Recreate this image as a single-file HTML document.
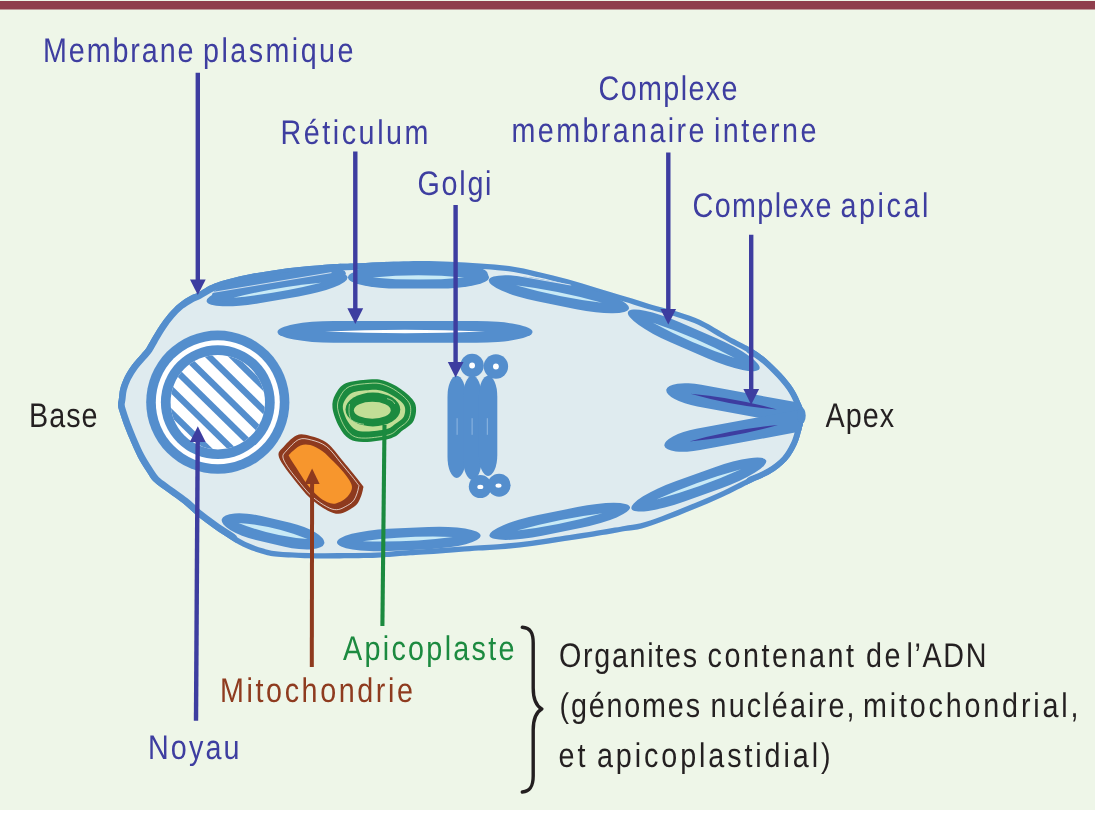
<!DOCTYPE html>
<html><head><meta charset="utf-8"><title>Figure</title>
<style>html,body{margin:0;padding:0;background:#fff;}body{width:1095px;height:819px;overflow:hidden;font-family:"Liberation Sans",sans-serif;}svg{display:block;}</style>
</head><body>
<svg width="1095" height="819" viewBox="0 0 1095 819">
<rect x="0" y="0" width="1095" height="819" fill="#ffffff"/>
<rect x="0" y="0" width="1095" height="810" fill="#eef6e8"/>
<rect x="0" y="1" width="1095" height="8.5" fill="#8f3e4c"/>
<defs><clipPath id="cellclip"><path d="M118.0,405.0C117.9,403.0 118.4,401.8 118.8,399.0C119.2,396.2 119.3,392.1 120.3,388.4C121.3,384.7 122.8,380.6 124.7,376.7C126.7,372.8 129.3,368.7 132.0,365.0C134.7,361.3 138.4,357.5 140.8,354.7C143.2,351.9 144.6,350.7 146.4,348.0C148.2,345.3 149.6,342.4 151.8,338.6C154.0,334.8 157.0,329.5 159.8,325.4C162.6,321.2 165.4,317.4 168.6,313.7C171.8,310.0 175.2,306.4 178.9,303.4C182.6,300.4 187.4,297.6 190.6,295.8C193.8,294.0 194.0,294.7 198.0,292.6C202.0,290.6 207.0,286.4 214.6,283.5C222.2,280.6 234.1,277.7 243.8,275.5C253.5,273.3 263.2,271.8 273.0,270.4C282.8,268.9 292.6,267.8 302.3,266.8C312.1,265.8 323.0,264.8 331.5,264.2C340.0,263.6 345.3,263.7 353.4,263.4C361.5,263.1 369.2,262.6 380.0,262.2C390.8,261.8 406.3,261.2 418.0,261.1C429.7,261.0 439.7,261.4 450.0,261.8C460.3,262.2 470.1,262.7 480.0,263.4C489.9,264.1 499.5,264.7 509.2,266.1C518.9,267.5 528.6,269.7 538.4,271.9C548.1,274.1 558.0,276.5 567.7,279.2C577.5,281.9 587.2,285.1 596.9,288.0C606.6,290.9 617.4,294.2 626.1,296.8C634.8,299.4 640.5,301.4 649.2,303.9C657.9,306.4 669.9,309.2 678.4,311.9C686.9,314.6 693.1,316.6 700.4,320.0C707.7,323.4 716.7,329.2 722.3,332.4C727.9,335.6 729.1,336.3 734.0,339.0C738.9,341.7 746.1,345.1 751.5,348.4C756.9,351.7 761.1,354.5 766.1,358.7C771.1,362.9 776.7,368.6 781.3,373.6C785.9,378.7 790.3,383.9 793.6,389.0C796.9,394.1 799.4,400.1 801.2,404.4C803.0,408.7 804.3,410.9 804.4,415.0C804.5,419.1 802.9,424.0 801.6,429.0C800.3,434.0 799.1,439.5 796.6,444.8C794.1,450.1 791.1,455.8 786.8,460.6C782.4,465.4 776.4,470.0 770.5,473.6C764.6,477.2 759.5,478.5 751.5,482.4C743.5,486.3 732.0,492.5 722.3,497.0C712.6,501.5 702.9,505.4 693.1,509.4C683.4,513.4 672.3,517.9 663.8,521.1C655.3,524.3 648.3,526.7 641.9,528.4C635.5,530.1 633.2,529.7 625.3,531.1C617.3,532.5 604.6,534.9 594.2,536.6C583.9,538.3 573.6,539.7 563.2,541.2C552.9,542.8 542.5,544.5 532.1,545.9C521.7,547.2 511.4,548.4 501.0,549.3C490.6,550.2 482.7,550.3 469.7,551.2C456.7,552.1 434.8,553.8 423.2,554.6C411.6,555.4 407.8,555.6 400.0,556.1C392.2,556.6 386.7,557.4 376.6,557.8C366.6,558.2 351.0,558.3 339.7,558.4C328.4,558.5 319.0,558.6 308.7,558.3C298.4,558.0 285.4,557.6 277.6,556.8C269.8,556.0 267.3,555.1 262.1,553.7C256.9,552.3 251.8,550.5 246.6,548.2C241.4,545.9 236.4,543.0 231.0,539.7C225.6,536.4 219.5,532.4 214.0,528.5C208.5,524.6 203.0,520.7 197.9,516.5C192.8,512.3 188.2,507.4 183.3,503.5C178.4,499.6 173.5,496.4 168.6,492.8C163.7,489.2 157.7,485.4 154.0,481.8C150.3,478.2 149.3,475.6 146.6,471.5C143.9,467.4 140.6,462.3 137.8,456.9C135.0,451.5 132.1,444.7 129.8,439.3C127.5,433.9 125.7,429.4 123.9,424.7C122.2,420.0 120.3,414.3 119.3,411.0C118.3,407.7 118.1,407.0 118.0,405.0Z"/></clipPath></defs>
<path d="M118.0,405.0C117.9,403.0 118.4,401.8 118.8,399.0C119.2,396.2 119.3,392.1 120.3,388.4C121.3,384.7 122.8,380.6 124.7,376.7C126.7,372.8 129.3,368.7 132.0,365.0C134.7,361.3 138.4,357.5 140.8,354.7C143.2,351.9 144.6,350.7 146.4,348.0C148.2,345.3 149.6,342.4 151.8,338.6C154.0,334.8 157.0,329.5 159.8,325.4C162.6,321.2 165.4,317.4 168.6,313.7C171.8,310.0 175.2,306.4 178.9,303.4C182.6,300.4 187.4,297.6 190.6,295.8C193.8,294.0 194.0,294.7 198.0,292.6C202.0,290.6 207.0,286.4 214.6,283.5C222.2,280.6 234.1,277.7 243.8,275.5C253.5,273.3 263.2,271.8 273.0,270.4C282.8,268.9 292.6,267.8 302.3,266.8C312.1,265.8 323.0,264.8 331.5,264.2C340.0,263.6 345.3,263.7 353.4,263.4C361.5,263.1 369.2,262.6 380.0,262.2C390.8,261.8 406.3,261.2 418.0,261.1C429.7,261.0 439.7,261.4 450.0,261.8C460.3,262.2 470.1,262.7 480.0,263.4C489.9,264.1 499.5,264.7 509.2,266.1C518.9,267.5 528.6,269.7 538.4,271.9C548.1,274.1 558.0,276.5 567.7,279.2C577.5,281.9 587.2,285.1 596.9,288.0C606.6,290.9 617.4,294.2 626.1,296.8C634.8,299.4 640.5,301.4 649.2,303.9C657.9,306.4 669.9,309.2 678.4,311.9C686.9,314.6 693.1,316.6 700.4,320.0C707.7,323.4 716.7,329.2 722.3,332.4C727.9,335.6 729.1,336.3 734.0,339.0C738.9,341.7 746.1,345.1 751.5,348.4C756.9,351.7 761.1,354.5 766.1,358.7C771.1,362.9 776.7,368.6 781.3,373.6C785.9,378.7 790.3,383.9 793.6,389.0C796.9,394.1 799.4,400.1 801.2,404.4C803.0,408.7 804.3,410.9 804.4,415.0C804.5,419.1 802.9,424.0 801.6,429.0C800.3,434.0 799.1,439.5 796.6,444.8C794.1,450.1 791.1,455.8 786.8,460.6C782.4,465.4 776.4,470.0 770.5,473.6C764.6,477.2 759.5,478.5 751.5,482.4C743.5,486.3 732.0,492.5 722.3,497.0C712.6,501.5 702.9,505.4 693.1,509.4C683.4,513.4 672.3,517.9 663.8,521.1C655.3,524.3 648.3,526.7 641.9,528.4C635.5,530.1 633.2,529.7 625.3,531.1C617.3,532.5 604.6,534.9 594.2,536.6C583.9,538.3 573.6,539.7 563.2,541.2C552.9,542.8 542.5,544.5 532.1,545.9C521.7,547.2 511.4,548.4 501.0,549.3C490.6,550.2 482.7,550.3 469.7,551.2C456.7,552.1 434.8,553.8 423.2,554.6C411.6,555.4 407.8,555.6 400.0,556.1C392.2,556.6 386.7,557.4 376.6,557.8C366.6,558.2 351.0,558.3 339.7,558.4C328.4,558.5 319.0,558.6 308.7,558.3C298.4,558.0 285.4,557.6 277.6,556.8C269.8,556.0 267.3,555.1 262.1,553.7C256.9,552.3 251.8,550.5 246.6,548.2C241.4,545.9 236.4,543.0 231.0,539.7C225.6,536.4 219.5,532.4 214.0,528.5C208.5,524.6 203.0,520.7 197.9,516.5C192.8,512.3 188.2,507.4 183.3,503.5C178.4,499.6 173.5,496.4 168.6,492.8C163.7,489.2 157.7,485.4 154.0,481.8C150.3,478.2 149.3,475.6 146.6,471.5C143.9,467.4 140.6,462.3 137.8,456.9C135.0,451.5 132.1,444.7 129.8,439.3C127.5,433.9 125.7,429.4 123.9,424.7C122.2,420.0 120.3,414.3 119.3,411.0C118.3,407.7 118.1,407.0 118.0,405.0Z" fill="#dfebef"/>
<path d="M118.0,405.0C117.9,403.0 118.4,401.8 118.8,399.0C119.2,396.2 119.3,392.1 120.3,388.4C121.3,384.7 122.8,380.6 124.7,376.7C126.7,372.8 129.3,368.7 132.0,365.0C134.7,361.3 138.4,357.5 140.8,354.7C143.2,351.9 144.6,350.7 146.4,348.0C148.2,345.3 149.6,342.4 151.8,338.6C154.0,334.8 157.0,329.5 159.8,325.4C162.6,321.2 165.4,317.4 168.6,313.7C171.8,310.0 175.2,306.4 178.9,303.4C182.6,300.4 187.4,297.6 190.6,295.8C193.8,294.0 194.0,294.7 198.0,292.6C202.0,290.6 207.0,286.4 214.6,283.5C222.2,280.6 234.1,277.7 243.8,275.5C253.5,273.3 263.2,271.8 273.0,270.4C282.8,268.9 292.6,267.8 302.3,266.8C312.1,265.8 323.0,264.8 331.5,264.2C340.0,263.6 345.3,263.7 353.4,263.4C361.5,263.1 369.2,262.6 380.0,262.2C390.8,261.8 406.3,261.2 418.0,261.1C429.7,261.0 439.7,261.4 450.0,261.8C460.3,262.2 470.1,262.7 480.0,263.4C489.9,264.1 499.5,264.7 509.2,266.1C518.9,267.5 528.6,269.7 538.4,271.9C548.1,274.1 558.0,276.5 567.7,279.2C577.5,281.9 587.2,285.1 596.9,288.0C606.6,290.9 617.4,294.2 626.1,296.8C634.8,299.4 640.5,301.4 649.2,303.9C657.9,306.4 669.9,309.2 678.4,311.9C686.9,314.6 693.1,316.6 700.4,320.0C707.7,323.4 716.7,329.2 722.3,332.4C727.9,335.6 729.1,336.3 734.0,339.0C738.9,341.7 746.1,345.1 751.5,348.4C756.9,351.7 761.1,354.5 766.1,358.7C771.1,362.9 776.7,368.6 781.3,373.6C785.9,378.7 790.3,383.9 793.6,389.0C796.9,394.1 799.4,400.1 801.2,404.4C803.0,408.7 804.3,410.9 804.4,415.0C804.5,419.1 802.9,424.0 801.6,429.0C800.3,434.0 799.1,439.5 796.6,444.8C794.1,450.1 791.1,455.8 786.8,460.6C782.4,465.4 776.4,470.0 770.5,473.6C764.6,477.2 759.5,478.5 751.5,482.4C743.5,486.3 732.0,492.5 722.3,497.0C712.6,501.5 702.9,505.4 693.1,509.4C683.4,513.4 672.3,517.9 663.8,521.1C655.3,524.3 648.3,526.7 641.9,528.4C635.5,530.1 633.2,529.7 625.3,531.1C617.3,532.5 604.6,534.9 594.2,536.6C583.9,538.3 573.6,539.7 563.2,541.2C552.9,542.8 542.5,544.5 532.1,545.9C521.7,547.2 511.4,548.4 501.0,549.3C490.6,550.2 482.7,550.3 469.7,551.2C456.7,552.1 434.8,553.8 423.2,554.6C411.6,555.4 407.8,555.6 400.0,556.1C392.2,556.6 386.7,557.4 376.6,557.8C366.6,558.2 351.0,558.3 339.7,558.4C328.4,558.5 319.0,558.6 308.7,558.3C298.4,558.0 285.4,557.6 277.6,556.8C269.8,556.0 267.3,555.1 262.1,553.7C256.9,552.3 251.8,550.5 246.6,548.2C241.4,545.9 236.4,543.0 231.0,539.7C225.6,536.4 219.5,532.4 214.0,528.5C208.5,524.6 203.0,520.7 197.9,516.5C192.8,512.3 188.2,507.4 183.3,503.5C178.4,499.6 173.5,496.4 168.6,492.8C163.7,489.2 157.7,485.4 154.0,481.8C150.3,478.2 149.3,475.6 146.6,471.5C143.9,467.4 140.6,462.3 137.8,456.9C135.0,451.5 132.1,444.7 129.8,439.3C127.5,433.9 125.7,429.4 123.9,424.7C122.2,420.0 120.3,414.3 119.3,411.0C118.3,407.7 118.1,407.0 118.0,405.0Z" fill="none" stroke="#548ecd" stroke-width="10.6" stroke-linejoin="round" clip-path="url(#cellclip)"/>
<path d="M751.5,348.4C753.9,350.1 761.1,354.5 766.1,358.7C771.1,362.9 776.7,368.6 781.3,373.6C785.9,378.7 790.3,383.9 793.6,389.0C796.9,394.1 799.4,400.1 801.2,404.4C803.0,408.7 804.3,410.9 804.4,415.0C804.5,419.1 802.9,424.0 801.6,429.0C800.3,434.0 799.1,439.5 796.6,444.8C794.1,450.1 791.1,455.8 786.8,460.6C782.4,465.4 776.4,470.0 770.5,473.6C764.6,477.2 754.7,480.9 751.5,482.4" fill="none" stroke="#548ecd" stroke-width="11.8" stroke-linejoin="round" stroke-linecap="round" clip-path="url(#cellclip)"/>
<path d="M231.0,539.7C228.2,537.8 219.5,532.4 214.0,528.5C208.5,524.6 203.0,520.7 197.9,516.5C192.8,512.3 188.2,507.4 183.3,503.5C178.4,499.6 173.5,496.4 168.6,492.8C163.7,489.2 157.7,485.4 154.0,481.8C150.3,478.2 149.3,475.6 146.6,471.5C143.9,467.4 140.6,462.3 137.8,456.9C135.0,451.5 132.1,444.7 129.8,439.3C127.5,433.9 125.7,429.4 123.9,424.7C122.2,420.0 120.3,414.3 119.3,411.0C118.3,407.7 118.1,407.0 118.0,405.0C117.9,403.0 118.4,401.8 118.8,399.0C119.2,396.2 119.3,392.1 120.3,388.4C121.3,384.7 122.8,380.6 124.7,376.7C126.7,372.8 129.3,368.7 132.0,365.0C134.7,361.3 138.4,357.5 140.8,354.7C143.2,351.9 144.6,350.7 146.4,348.0C148.2,345.3 149.6,342.4 151.8,338.6C154.0,334.8 157.0,329.5 159.8,325.4C162.6,321.2 165.4,317.4 168.6,313.7C171.8,310.0 175.2,306.4 178.9,303.4C182.6,300.4 187.4,297.6 190.6,295.8C193.8,294.0 194.0,294.7 198.0,292.6C202.0,290.6 207.0,286.4 214.6,283.5C222.2,280.6 234.1,277.7 243.8,275.5C253.5,273.3 263.2,271.8 273.0,270.4C282.8,268.9 292.6,267.8 302.3,266.8C312.1,265.8 323.0,264.8 331.5,264.2C340.0,263.6 345.3,263.7 353.4,263.4C361.5,263.1 375.6,262.4 380.0,262.2" fill="none" stroke="#548ecd" stroke-width="13.4" stroke-linejoin="round" stroke-linecap="round" clip-path="url(#cellclip)"/>
<g transform="translate(277.1,289.3) rotate(-9.7)"><rect x="-71.5" y="-10.8" width="143.0" height="21.5" rx="51.5" ry="10.8" fill="#548ecd"/><rect x="-65.5" y="-15.2" width="136.0" height="21.5" rx="41.2" ry="10.8" fill="#548ecd"/><path d="M-44.5,1.0 Q0.0,-2.4 44.5,1.0 Q0.0,4.4 -44.5,1.0Z" fill="#c8eaf6"/></g>
<g transform="translate(418.5,277.4) rotate(0.0)"><rect x="-70.5" y="-11.2" width="141.0" height="22.4" rx="50.8" ry="11.2" fill="#548ecd"/><rect x="-64.5" y="-14.2" width="134.0" height="22.4" rx="40.6" ry="11.2" fill="#548ecd"/><path d="M-45.7,0.0 Q0.0,-4.4 45.7,0.0 Q0.0,4.4 -45.7,0.0Z" fill="#c8eaf6"/></g>
<g transform="translate(558.9,294.2) rotate(11.5)"><rect x="-71.5" y="-11.2" width="143.0" height="22.5" rx="51.5" ry="11.2" fill="#548ecd"/><path d="M-44.0,-0.3 Q0.0,-3.8 44.0,-0.3 Q0.0,3.2 -44.0,-0.3Z" fill="#c8eaf6"/></g>
<g transform="translate(693.8,340.4) rotate(23.4)"><rect x="-71.7" y="-11.0" width="143.3" height="22.0" rx="51.6" ry="11.0" fill="#548ecd"/><path d="M-44.5,0.0 Q0.0,-4.0 44.5,0.0 Q0.0,4.0 -44.5,0.0Z" fill="#c8eaf6"/></g>
<g transform="translate(698.8,484.6) rotate(-19.7)"><rect x="-71.5" y="-11.0" width="143.1" height="22.0" rx="51.5" ry="11.0" fill="#548ecd"/><path d="M-45.0,-0.3 Q0.0,-3.9 45.0,-0.3 Q0.0,3.3 -45.0,-0.3Z" fill="#c8eaf6"/></g>
<g transform="translate(559.7,521.4) rotate(-11.5)"><rect x="-71.7" y="-10.5" width="143.4" height="21.0" rx="51.6" ry="10.5" fill="#548ecd"/><path d="M-43.5,0.5 Q0.0,-2.9 43.5,0.5 Q0.0,3.9 -43.5,0.5Z" fill="#c8eaf6"/></g>
<g transform="translate(408.8,539.0) rotate(-2.7)"><rect x="-71.9" y="-11.1" width="143.8" height="22.2" rx="51.8" ry="11.1" fill="#548ecd"/><path d="M-46.1,0.0 Q-1.0,-3.8 44.1,0.0 Q-1.0,3.8 -46.1,0.0Z" fill="#c8eaf6"/></g>
<g transform="translate(273.0,531.3) rotate(13.2)"><rect x="-52.6" y="-12.2" width="105.3" height="24.5" rx="37.9" ry="12.2" fill="#548ecd"/><path d="M-35.5,-0.3 Q0.0,-5.9 35.5,-0.3 Q0.0,5.3 -35.5,-0.3Z" fill="#c8eaf6"/></g>
<line x1="213" y1="292.4" x2="331.5" y2="272.6" stroke="#eaf3f7" stroke-width="0.8"/>
<line x1="504.8" y1="273.4" x2="570.6" y2="285" stroke="#eaf3f7" stroke-width="0.8"/>
<g transform="translate(405.0,331.9) rotate(0.0)"><rect x="-127.5" y="-10.9" width="255.0" height="21.8" rx="56.1" ry="10.9" fill="#548ecd"/><path d="M-80.0,-0.4 Q0.0,-3.8 80.0,-0.4 Q0.0,3.0 -80.0,-0.4Z" fill="#ffffff"/></g>
<g clip-path="url(#cellclip)"><g transform="translate(745.0,404.0) rotate(10.4)"><rect x="-80.0" y="-11.0" width="170.0" height="22.0" rx="33.6" ry="11.0" fill="#548ecd"/><path d="M-55.5,-0.3 Q-11.5,-4.5 32.5,-0.3 Q-11.5,3.9 -55.5,-0.3Z" fill="#3d3da0"/></g></g>
<g clip-path="url(#cellclip)"><g transform="translate(745.0,430.8) rotate(-10.5)"><rect x="-82.0" y="-10.8" width="172.0" height="21.6" rx="34.4" ry="10.8" fill="#548ecd"/><path d="M-56.5,0.3 Q-11.5,-3.9 33.5,0.3 Q-11.5,4.5 -56.5,0.3Z" fill="#3d3da0"/></g></g>
<ellipse cx="801.5" cy="415.5" rx="4.2" ry="8" fill="#548ecd"/>
<circle cx="217.8" cy="402.2" r="71.6" fill="#548ecd"/>
<circle cx="217.8" cy="402.2" r="62" fill="#ffffff"/>
<circle cx="217.8" cy="402.2" r="56.9" fill="#548ecd"/>
<clipPath id="nc"><circle cx="217.8" cy="402.2" r="47.2"/></clipPath>
<circle cx="217.8" cy="402.2" r="47.2" fill="#ffffff"/>
<g clip-path="url(#nc)" stroke="#548ecd" stroke-width="6.3"><line x1="209.0" y1="286.7" x2="323.1" y2="398.9"/><line x1="197.4" y1="298.6" x2="311.5" y2="410.7"/><line x1="185.7" y1="310.4" x2="299.9" y2="422.6"/><line x1="174.1" y1="322.2" x2="288.2" y2="434.4"/><line x1="162.5" y1="334.1" x2="276.6" y2="446.2"/><line x1="150.8" y1="345.9" x2="265.0" y2="458.1"/><line x1="139.2" y1="357.8" x2="253.3" y2="469.9"/><line x1="127.6" y1="369.6" x2="241.7" y2="481.8"/><line x1="115.9" y1="381.4" x2="230.1" y2="493.6"/><line x1="104.3" y1="393.3" x2="218.4" y2="505.4"/><line x1="92.7" y1="405.1" x2="206.8" y2="517.3"/></g>
<rect x="447.5" y="375.7" width="18.4" height="102.3" rx="9.2" ry="21" fill="#548ecd"/>
<rect x="463.2" y="375.7" width="18.4" height="104.3" rx="9.2" ry="21" fill="#548ecd"/>
<rect x="478.9" y="375.7" width="18.4" height="100.3" rx="9.2" ry="21" fill="#548ecd"/>
<line x1="457.1" y1="418.2" x2="457.1" y2="434.8" stroke="#a9c9ea" stroke-width="0.7"/>
<line x1="472.1" y1="418.2" x2="472.1" y2="434.8" stroke="#a9c9ea" stroke-width="0.7"/>
<line x1="487.3" y1="418.2" x2="487.3" y2="434.8" stroke="#a9c9ea" stroke-width="0.7"/>
<circle cx="472.1" cy="365.5" r="11.7" fill="#548ecd"/>
<circle cx="495.9" cy="366.5" r="12.2" fill="#548ecd"/>
<circle cx="480.3" cy="486.6" r="11.5" fill="#548ecd"/>
<circle cx="499.1" cy="485.2" r="11.5" fill="#548ecd"/>
<circle cx="472.1" cy="365.5" r="2.9" fill="#ffffff"/>
<circle cx="495.9" cy="366.5" r="2.9" fill="#ffffff"/>
<ellipse cx="480.3" cy="486.9" rx="3" ry="2.2" fill="#ffffff"/>
<ellipse cx="498.5" cy="485.6" rx="3" ry="2.2" fill="#ffffff"/>
<path d="M332.5,407.9C331.9,402.5 333.1,398.7 335.3,394.6C337.5,390.5 340.2,385.8 345.7,383.3C351.2,380.8 362.2,380.0 368.5,379.5C374.8,379.0 378.2,378.8 383.6,380.4C389.0,382.0 395.5,385.1 400.7,388.9C405.9,392.7 412.7,397.9 414.9,403.1C417.1,408.3 416.0,415.6 413.9,420.2C411.8,424.8 406.3,427.6 402.5,430.6C398.7,433.6 397.5,436.3 391.2,438.2C384.9,440.1 371.6,441.9 364.7,442.0C357.8,442.1 353.8,441.6 349.5,439.1C345.2,436.6 341.9,432.0 339.1,426.8C336.3,421.6 333.1,413.3 332.5,407.9Z" fill="#1b8a3f"/>
<path d="M337.6,408.2C337.1,403.6 338.1,400.2 340.1,396.6C342.0,393.0 344.3,388.9 349.2,386.7C354.0,384.5 363.6,383.8 369.1,383.4C374.7,383.0 377.6,382.8 382.3,384.2C387.0,385.6 392.7,388.3 397.3,391.6C401.9,394.9 407.8,399.5 409.7,404.1C411.6,408.6 410.7,415.0 408.8,419.0C407.0,423.0 402.2,425.5 398.9,428.1C395.6,430.7 394.5,433.1 389.0,434.8C383.5,436.4 371.9,438.0 365.8,438.1C359.7,438.2 356.2,437.8 352.5,435.6C348.8,433.3 345.9,429.3 343.4,424.8C340.9,420.2 338.2,412.9 337.6,408.2Z" fill="none" stroke="#c6e3a4" stroke-width="0.8"/>
<path d="M342.9,408.9C342.5,405.3 343.4,402.8 345.0,400.1C346.7,397.3 348.6,394.2 352.8,392.5C356.9,390.9 365.0,390.3 369.7,390.0C374.5,389.7 377.0,389.6 381.0,390.6C385.0,391.7 389.9,393.8 393.7,396.3C397.6,398.8 402.7,402.2 404.3,405.7C406.0,409.2 405.1,414.0 403.6,417.1C402.0,420.1 397.9,422.0 395.1,424.0C392.3,426.0 391.4,427.8 386.7,429.1C382.0,430.3 372.1,431.5 366.9,431.6C361.7,431.7 358.8,431.3 355.6,429.7C352.4,428.0 350.0,424.9 347.8,421.5C345.7,418.0 343.4,412.5 342.9,408.9Z" fill="#c1de96"/>
<ellipse cx="372.9" cy="409.5" rx="27.4" ry="16.9" fill="#1b8a3f"/>
<path d="M349.5,404 C348.2,412 349.5,418.5 352,420.5 C356,423 361,424 364,424.3" fill="none" stroke="#c6e3a4" stroke-width="0.7"/>
<path d="M387,398.6 C391,399.5 394,401.5 394.8,404" fill="none" stroke="#c6e3a4" stroke-width="0.7"/>
<ellipse cx="372.3" cy="410.3" rx="18.4" ry="8.5" fill="#c1de96"/>
<path d="M278.5,454.9C278.3,452.0 279.2,451.4 282.2,448.2C285.2,444.9 291.6,437.4 296.3,435.4C301.0,433.4 305.1,434.7 310.3,436.0C315.5,437.3 321.9,439.0 327.4,443.3C332.9,447.6 337.7,454.9 343.3,461.6C348.9,468.3 357.7,479.0 361.0,483.6C364.3,488.2 363.5,485.9 363.0,489.1C362.5,492.4 360.4,499.5 357.9,503.1C355.4,506.7 351.4,508.7 348.1,510.5C344.9,512.3 341.8,513.8 338.4,513.8C334.9,513.8 332.1,513.1 327.4,510.5C322.7,507.9 315.8,503.4 310.3,498.3C304.8,493.2 298.9,485.4 294.4,479.9C289.9,474.4 286.0,469.5 283.4,465.3C280.8,461.1 278.7,457.8 278.5,454.9Z" fill="#8e3a1e"/>
<path d="M282.9,457.0C282.7,454.4 283.6,453.9 286.2,451.0C288.9,448.1 294.6,441.3 298.8,439.5C303.0,437.7 306.7,438.9 311.4,440.0C316.0,441.2 321.8,442.8 326.7,446.6C331.6,450.4 335.9,456.9 340.9,463.0C345.9,469.0 353.8,478.5 356.7,482.6C359.7,486.7 359.0,484.7 358.5,487.6C358.1,490.5 356.2,496.9 354.0,500.1C351.8,503.3 348.1,505.1 345.2,506.7C342.3,508.3 339.6,509.7 336.5,509.7C333.4,509.7 330.9,509.0 326.7,506.7C322.5,504.4 316.3,500.4 311.4,495.8C306.4,491.2 301.2,484.3 297.1,479.3C293.1,474.4 289.7,470.0 287.3,466.3C284.9,462.5 283.1,459.5 282.9,457.0Z" fill="none" stroke="#ffffff" stroke-width="0.8" stroke-opacity="0.9"/>
<path d="M290.1,453.7C291.9,451.8 297.1,446.9 300.5,445.5C303.9,444.1 306.6,444.1 310.3,445.1C314.0,446.1 318.6,448.6 322.5,451.3C326.4,454.1 330.0,458.2 333.5,461.6C337.0,465.1 340.4,468.5 343.3,472.0C346.2,475.5 349.2,479.4 350.6,482.4C352.0,485.3 352.4,487.0 351.6,489.7C350.8,492.4 348.3,496.0 345.7,498.3C343.1,500.6 338.9,502.8 335.9,503.4C332.8,504.0 330.4,503.5 327.4,502.2C324.3,500.9 321.1,498.9 317.6,495.8C314.1,492.7 310.2,488.3 306.6,483.6C303.1,478.9 299.2,472.1 296.3,467.7C293.4,463.3 290.5,459.3 289.5,457.0C288.5,454.7 288.3,455.6 290.1,453.7Z" fill="#f7962d"/>
<line x1="197.8" y1="72.8" x2="197.8" y2="280.4" stroke="#3d3da0" stroke-width="4.4"/><polygon points="197.8,295.1 190.0,279.4 205.7,279.4" fill="#3d3da0"/>
<line x1="355.3" y1="151.6" x2="355.3" y2="309.3" stroke="#3d3da0" stroke-width="4.4"/><polygon points="355.3,324.0 347.4,308.3 363.2,308.3" fill="#3d3da0"/>
<line x1="455.6" y1="205.0" x2="455.6" y2="362.9" stroke="#3d3da0" stroke-width="4.4"/><polygon points="455.6,377.6 447.8,361.9 463.5,361.9" fill="#3d3da0"/>
<line x1="668.3" y1="152.4" x2="668.3" y2="309.9" stroke="#3d3da0" stroke-width="4.4"/><polygon points="668.3,324.6 660.4,308.9 676.1,308.9" fill="#3d3da0"/>
<line x1="751.2" y1="234.8" x2="751.2" y2="390.1" stroke="#3d3da0" stroke-width="4.4"/><polygon points="751.2,404.8 743.4,389.1 759.1,389.1" fill="#3d3da0"/>
<line x1="196.0" y1="720.8" x2="197.7" y2="441.0" stroke="#3d3da0" stroke-width="4.4"/><polygon points="197.8,426.3 205.6,442.0 189.9,442.0" fill="#3d3da0"/>
<line x1="311.8" y1="667.1" x2="312.1" y2="483.0" stroke="#8e3a1e" stroke-width="4.0"/><polygon points="312.1,468.5 319.6,484.0 304.6,484.0" fill="#8e3a1e"/>
<line x1="384.5" y1="425" x2="382.4" y2="626" stroke="#1b8a3f" stroke-width="4.1"/>
<path d="M522.3,627.3 C530.5,628 533.2,633 533.2,643 L533.2,688 C533.2,699 535.5,705.5 541.8,708.9 C535.5,712.3 533.2,719 533.2,730 L533.2,776 C533.2,786 530.5,791.2 522.3,792" fill="none" stroke="#231f20" stroke-width="3.4" stroke-linecap="round" stroke-linejoin="round"/>
<g font-family="'Liberation Sans', sans-serif" font-size="34.2" text-rendering="geometricPrecision" opacity="0.996">
<text transform="translate(43.00,61.9) scale(0.84,1)" fill="#3d3da0" textLength="179.17" lengthAdjust="spacing">Membrane</text>
<text transform="translate(203.00,61.9) scale(0.84,1)" fill="#3d3da0" textLength="179.17" lengthAdjust="spacing">plasmique</text>
<text transform="translate(280.50,143.9) scale(0.84,1)" fill="#3d3da0" textLength="176.19" lengthAdjust="spacing">Réticulum</text>
<text transform="translate(417.50,195.1) scale(0.84,1)" fill="#3d3da0" textLength="88.10" lengthAdjust="spacing">Golgi</text>
<text transform="translate(598.50,100.2) scale(0.84,1)" fill="#3d3da0" textLength="165.48" lengthAdjust="spacing">Complexe</text>
<text transform="translate(511.50,141.6) scale(0.84,1)" fill="#3d3da0" textLength="229.76" lengthAdjust="spacing">membranaire</text>
<text transform="translate(714.00,141.6) scale(0.84,1)" fill="#3d3da0" textLength="122.02" lengthAdjust="spacing">interne</text>
<text transform="translate(692.50,216.5) scale(0.84,1)" fill="#3d3da0" textLength="165.48" lengthAdjust="spacing">Complexe</text>
<text transform="translate(840.50,216.5) scale(0.84,1)" fill="#3d3da0" textLength="104.76" lengthAdjust="spacing">apical</text>
<text transform="translate(29.00,426.8) scale(0.84,1)" fill="#231f20" textLength="81.55" lengthAdjust="spacing">Base</text>
<text transform="translate(825.50,426.8) scale(0.84,1)" fill="#231f20" textLength="81.55" lengthAdjust="spacing">Apex</text>
<text transform="translate(343.00,659.5) scale(0.84,1)" fill="#1b8a3f" textLength="204.17" lengthAdjust="spacing">Apicoplaste</text>
<text transform="translate(220.00,701.6) scale(0.84,1)" fill="#8e3a1e" textLength="229.76" lengthAdjust="spacing">Mitochondrie</text>
<text transform="translate(148.00,759.2) scale(0.84,1)" fill="#3d3da0" textLength="108.93" lengthAdjust="spacing">Noyau</text>
<text transform="translate(559.00,667.2) scale(0.84,1)" fill="#231f20" textLength="164.29" lengthAdjust="spacing">Organites</text>
<text transform="translate(707.50,667.2) scale(0.84,1)" fill="#231f20" textLength="174.40" lengthAdjust="spacing">contenant</text>
<text transform="translate(866.00,667.2) scale(0.84,1)" fill="#231f20" textLength="41.07" lengthAdjust="spacing">de</text>
<text transform="translate(906.50,667.2) scale(0.84,1)" fill="#231f20" textLength="95.24" lengthAdjust="spacing">l’ADN</text>
<text transform="translate(559.50,716.8) scale(0.84,1)" fill="#231f20" textLength="167.26" lengthAdjust="spacing">(génomes</text>
<text transform="translate(710.50,716.8) scale(0.84,1)" fill="#231f20" textLength="171.43" lengthAdjust="spacing">nucléaire,</text>
<text transform="translate(863.00,716.8) scale(0.84,1)" fill="#231f20" textLength="256.55" lengthAdjust="spacing">mitochondrial,</text>
<text transform="translate(558.50,766.5) scale(0.84,1)" fill="#231f20" textLength="32.14" lengthAdjust="spacing">et</text>
<text transform="translate(597.00,766.5) scale(0.84,1)" fill="#231f20" textLength="277.98" lengthAdjust="spacing">apicoplastidial)</text>
</g>
</svg>
</body></html>
